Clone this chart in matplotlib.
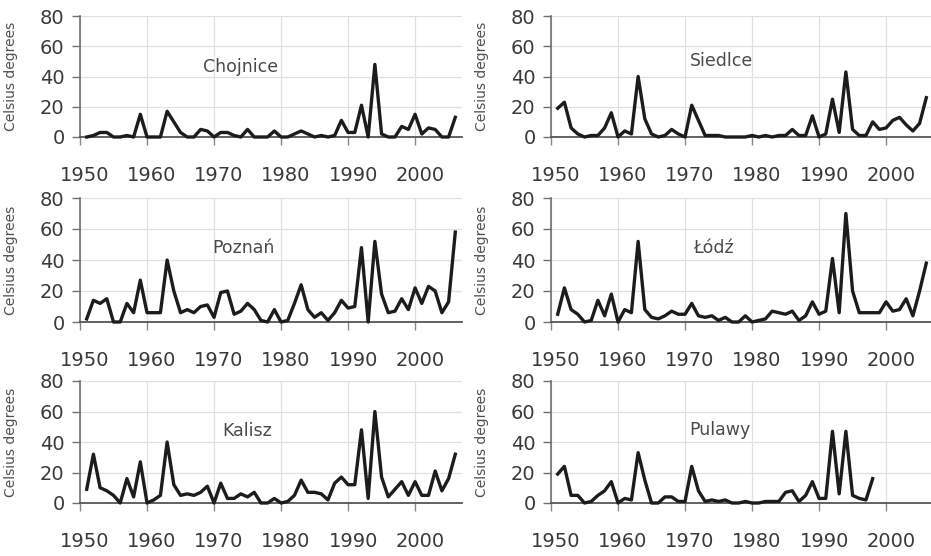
import matplotlib
matplotlib.use('Agg')
import matplotlib.pyplot as plt
import matplotlib.transforms as mtransforms
import numpy as np

# values (1951 onwards)
years = list(range(1951, 2007))
years_pulawy = list(range(1951, 1999))

chojnice = [0, 1, 3, 3, 0, 0, 1, 0, 15, 0,
            0, 0, 17, 10, 3, 0, 0, 5, 4, 0,
            3, 3, 1, 0, 5, 0, 0, 0, 4, 0,
            0, 2, 4, 2, 0, 1, 0, 1, 11, 3,
            3, 21, 0, 48, 2, 0, 0, 7, 5, 15,
            2, 6, 5, 0, 0, 13]
siedlce = [19, 23, 6, 2, 0, 1, 1, 6, 16, 0,
           4, 2, 40, 12, 2, 0, 1, 5, 2, 0,
           21, 11, 1, 1, 1, 0, 0, 0, 0, 1,
           0, 1, 0, 1, 1, 5, 1, 1, 14, 0,
           2, 25, 3, 43, 5, 1, 1, 10, 5, 6,
           11, 13, 8, 4, 9, 26]
poznan = [2, 14, 12, 15, 0, 0, 12, 6, 27, 6,
          6, 6, 40, 20, 6, 8, 6, 10, 11, 3,
          19, 20, 5, 7, 12, 8, 1, 0, 8, 0,
          1, 12, 24, 8, 3, 6, 1, 6, 14, 9,
          10, 48, 0, 52, 18, 6, 7, 15, 8, 22,
          12, 23, 20, 6, 13, 58]
lodz = [5, 22, 8, 5, 0, 1, 14, 4, 18, 0,
        8, 6, 52, 8, 3, 2, 4, 7, 5, 5,
        12, 4, 3, 4, 1, 3, 0, 0, 4, 0,
        1, 2, 7, 6, 5, 7, 1, 4, 13, 5,
        7, 41, 6, 70, 20, 6, 6, 6, 6, 13,
        7, 8, 15, 4, 20, 38]
kalisz = [9, 32, 10, 8, 5, 0, 16, 4, 27, 0,
          2, 5, 40, 12, 5, 6, 5, 7, 11, 0,
          13, 3, 3, 6, 4, 7, 0, 0, 3, 0,
          1, 5, 15, 7, 7, 6, 2, 13, 17, 12,
          12, 48, 3, 60, 17, 4, 9, 14, 5, 14,
          5, 5, 21, 8, 16, 32]
pulawy = [19, 24, 5, 5, 0, 1, 5, 8, 14, 0,
          3, 2, 33, 15, 0, 0, 4, 4, 1, 1,
          24, 8, 1, 2, 1, 2, 0, 0, 1, 0,
          0, 1, 1, 1, 7, 8, 1, 5, 14, 3,
          3, 47, 6, 47, 5, 3, 2, 16]

names = ['Chojnice', 'Siedlce', 'Poznań', 'Łódź', 'Kalisz', 'Pulawy']
series = [chojnice, siedlce, poznan, lodz, kalisz, pulawy]
xs = [years, years, years, years, years, years_pulawy]
label_pos = [(1974, 46), (1975.5, 50), (1974.4, 48), (1974.2, 48), (1975, 47), (1975.2, 48)]

yticks = [0, 20, 40, 60, 80]
xticks = [1950, 1960, 1970, 1980, 1990, 2000]

W, H = 931, 556
fig = plt.figure(figsize=(W / 100, H / 100), dpi=100)
fig.patch.set_facecolor('white')

lefts = [80, 551]
# (top px of 80, px of 0) per row
rows = [(16, 137), (198, 322), (381, 503)]
width_px = 382

offset = mtransforms.ScaledTranslation(5 / 100, 0, fig.dpi_scale_trans)

for i in range(6):
    r, c = divmod(i, 2)
    top, bot = rows[r]
    ax = fig.add_axes([lefts[c] / W, 1 - bot / H, width_px / W, (bot - top) / H])
    ax.plot(xs[i], series[i], color='#1c1c1c', lw=2.4, clip_on=False, zorder=3)
    ax.set_xlim(1950, 2007)
    ax.set_ylim(0, 80)
    ax.set_yticks(yticks)
    ax.set_xticks(xticks)
    ax.grid(True, color='#e0e0e0', lw=0.9)
    ax.set_axisbelow(True)
    for s in ['top', 'right']:
        ax.spines[s].set_visible(False)
    ax.spines['left'].set_color('#707070')
    ax.spines['left'].set_linewidth(1.2)
    ax.spines['bottom'].set_color('#555555')
    ax.spines['bottom'].set_linewidth(1.3)
    ax.tick_params(axis='y', length=6, width=1, color='#707070', pad=5,
                   labelsize=14, labelcolor='#3a3a3a')
    ax.tick_params(axis='x', length=6, width=1, color='#888888', pad=15,
                   labelsize=14, labelcolor='#3a3a3a')
    for lab in ax.get_xticklabels():
        lab.set_transform(lab.get_transform() + offset)
    ax.set_ylabel('Celsius degrees', fontsize=10, color='#505050')
    ax.yaxis.set_label_coords(-0.162, 0.5)
    ax.text(label_pos[i][0], label_pos[i][1], names[i], ha='center', va='center',
            fontsize=12.5, color='#4a4a4a')

fig.savefig('out.png', dpi=100, facecolor='white')
